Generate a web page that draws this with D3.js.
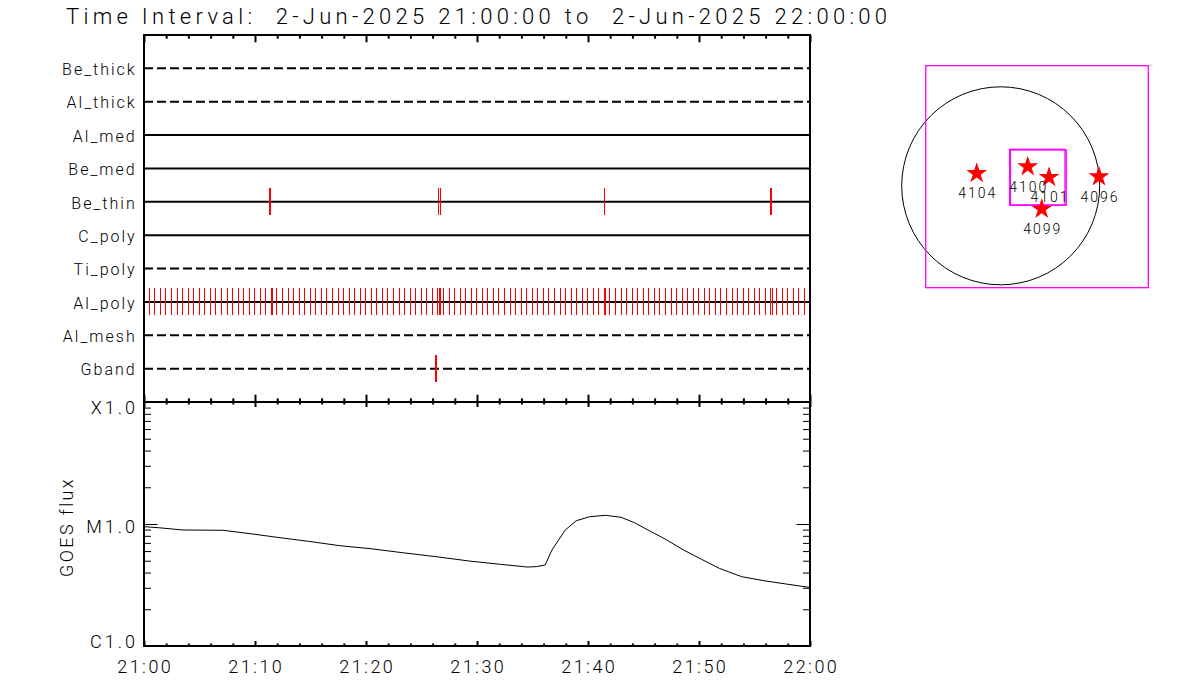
<!DOCTYPE html>
<html><head><meta charset="utf-8">
<script src="https://cdn.jsdelivr.net/npm/d3@7"></script>
<style>
body{margin:0;background:#fff}
svg{display:block}
text{font-family:"Roboto","Liberation Sans",Arial,sans-serif;font-weight:300;fill:#000}
</style>
</head><body>
<svg id="c" width="1200" height="700"></svg>
<script>
// ---------------- data ----------------
const titleText = "Time Interval:  2-Jun-2025 21:00:00 to  2-Jun-2025 22:00:00";
const filterRows = ["Be_thick","Al_thick","Al_med","Be_med","Be_thin","C_poly","Ti_poly","Al_poly","Al_mesh","Gband"];
const dashedRows = ["Be_thick","Al_thick","Ti_poly","Al_mesh","Gband"];
// exposure times, minutes after 21:00
const beThinTimes = [11.28, 11.36, 26.52, 26.67, 41.48, 56.48, 56.55];
const gbandTimes = [26.28, 26.35];
const alPolyTimes = [
 0.48,0.98,1.48,1.98,2.48,2.98,3.48,3.98,4.48,4.98,
 5.48,5.98,6.48,6.98,7.48,7.98,8.48,8.98,9.48,9.98,
 10.48,10.98,11.48,11.6,11.98,12.48,12.98,13.48,13.98,14.48,14.98,
 15.48,15.98,16.48,16.98,17.48,17.98,18.48,18.98,19.48,19.98,
 20.48,20.98,21.48,21.98,22.48,22.98,23.48,23.98,24.48,24.98,
 25.48,25.98,26.48,26.6,26.73,26.98,27.48,27.98,28.48,28.98,29.48,29.98,
 30.48,30.98,31.48,31.98,32.48,32.98,33.48,33.98,34.48,34.98,
 35.48,35.98,36.48,36.98,37.48,37.98,38.48,38.98,39.48,39.98,
 40.48,40.98,41.48,41.6,41.98,42.48,42.98,43.48,43.98,44.48,44.98,
 45.48,45.98,46.48,46.98,47.48,47.98,48.48,48.98,49.48,49.98,
 50.48,50.98,51.48,51.98,52.48,52.98,53.48,53.98,54.48,54.98,
 55.48,55.98,56.48,56.6,56.98,57.48,57.98,58.48,58.98,59.48
];
const goesMinutes = [0,1.26,3.51,7.12,10.0,11.98,14.83,17.64,20.45,23.27,26.49,29.31,32.12,34.53,35.34,36.14,36.75,37.95,38.95,40.16,41.57,42.97,44.19,45.40,47.0,48.61,50.22,51.83,53.84,55.85,57.86,60.0];
const goesFlux = [9.51e-6,9.33e-6,8.93e-6,8.88e-6,8.23e-6,7.78e-6,7.21e-6,6.64e-6,6.27e-6,5.82e-6,5.37e-6,4.97e-6,4.67e-6,4.44e-6,4.47e-6,4.61e-6,6.12e-6,8.93e-6,1.064e-5,1.148e-5,1.178e-5,1.135e-5,1.025e-5,8.93e-6,7.49e-6,6.12e-6,5.14e-6,4.33e-6,3.70e-6,3.43e-6,3.22e-6,3.02e-6];
const xMajorMinutes = [0,10,20,30,40,50,60];
const xTickLabels = ["21:00","21:10","21:20","21:30","21:40","21:50","22:00"];
const xMinorMinutes = [2,4,6,8,12,14,16,18,22,24,26,28,32,34,36,38,42,44,46,48,52,54,56,58];
const goesMajor = [1e-6,1e-5,1e-4];
const goesLabels = ["C1.0","M1.0","X1.0"];
const goesMinor = [2e-6,3e-6,4e-6,5e-6,6e-6,7e-6,8e-6,9e-6,2e-5,3e-5,4e-5,5e-5,6e-5,7e-5,8e-5,9e-5];
const yAxisTitle = "GOES flux";
// solar map (arcsec)
const sunRadius = 946;
const regionNames = ["4104","4100","4101","4096","4099"];
const regionX = [-229,258,462,939,392];
const regionY = [119,183,81,87,-222];
const fovCx = [347,350,360];
const fovCy = [87,83,78];
const fovW = [2127,528,533];
const fovH = [2121,532,528];

// ---------------- drawing ----------------
const svg = d3.select("#c");
const L = 144, R = 810, T1 = 35, B1 = 402, B2 = 646;

const x = d3.scaleLinear().domain([0,60]).range([L,R]);
const yRow = d3.scalePoint().domain(filterRows).range([T1,B1]).padding(1);
const yG = d3.scaleLog().domain([1e-6,1e-4]).range([B2,B1]);

// title
svg.append("text").attr("x",66).attr("y",24)
  .attr("font-size",22).style("white-space","pre")
  .attr("textLength",821).attr("lengthAdjust","spacing")
  .text(titleText);

// filter rows
svg.append("g").selectAll("line").data(filterRows).join("line")
  .attr("x1",L).attr("x2",R)
  .attr("y1",d=>yRow(d)).attr("y2",d=>yRow(d))
  .attr("stroke","#000").attr("stroke-width",2)
  .attr("stroke-dasharray",d=>dashedRows.includes(d)?"9,4":null);

svg.append("g").selectAll("text").data(filterRows).join("text")
  .attr("x",136.7).attr("y",d=>yRow(d)+6.7)
  .attr("text-anchor","end").attr("font-size",16)
  .style("letter-spacing","2px")
  .text(d=>d);

// exposure ticks
const events = [].concat(
  beThinTimes.map(t=>({row:"Be_thin",t})),
  alPolyTimes.map(t=>({row:"Al_poly",t})),
  gbandTimes.map(t=>({row:"Gband",t}))
);
svg.append("g").attr("shape-rendering","crispEdges")
  .selectAll("line").data(events).join("line")
  .attr("x1",d=>x(d.t)).attr("x2",d=>x(d.t))
  .attr("y1",d=>yRow(d.row)-13.5).attr("y2",d=>yRow(d.row)+13.5)
  .attr("stroke","#ff0000").attr("stroke-width",1);

// frames
function frame(y0,y1){
  svg.append("rect").attr("x",L).attr("y",y0).attr("width",R-L).attr("height",y1-y0)
    .attr("fill","none").attr("stroke","#000").attr("stroke-width",2);
}
frame(T1,B1);
frame(B1,B2);

// x ticks via axes
function xTicks(axisFn, y, vals, len){
  const g = svg.append("g").attr("transform",`translate(0,${y})`)
    .call(axisFn(x).tickValues(vals).tickSize(-len).tickFormat(""));
  g.select(".domain").remove();
  g.selectAll("text").remove();
  g.selectAll("line").attr("stroke","#000").attr("stroke-width",2);
}
xTicks(d3.axisTop, T1, xMajorMinutes, 7.3);
xTicks(d3.axisTop, T1, xMinorMinutes, 3.7);
xTicks(d3.axisBottom, B1, xMajorMinutes, 7.3);
xTicks(d3.axisBottom, B1, xMinorMinutes, 3.7);
xTicks(d3.axisTop, B1, xMajorMinutes, 5);
xTicks(d3.axisTop, B1, xMinorMinutes, 2.5);
xTicks(d3.axisBottom, B2, xMajorMinutes, 5);
xTicks(d3.axisBottom, B2, xMinorMinutes, 2.5);

svg.append("g").selectAll("text").data(xMajorMinutes).join("text")
  .attr("x",d=>x(d)+1.25).attr("y",672.7)
  .attr("text-anchor","middle").attr("font-size",18)
  .style("letter-spacing","2.5px")
  .text((d,i)=>xTickLabels[i]);

// y ticks
function yTicks(axisFn, xpos, vals, len){
  const g = svg.append("g").attr("transform",`translate(${xpos},0)`)
    .call(axisFn(yG).tickValues(vals).tickSize(-len).tickFormat(""));
  g.select(".domain").remove();
  g.selectAll("text").remove();
  g.selectAll("line").attr("stroke","#000").attr("stroke-width",1);
}
yTicks(d3.axisLeft, L, goesMajor, 13.5);
yTicks(d3.axisLeft, L, goesMinor, 7);
yTicks(d3.axisRight, R, goesMajor, 13.5);
yTicks(d3.axisRight, R, goesMinor, 7);

const labelDy = [2, 9, 12];
svg.append("g").selectAll("text").data(goesMajor).join("text")
  .attr("x",138).attr("y",(d,i)=>yG(d)+labelDy[i])
  .attr("text-anchor","end").attr("font-size",18)
  .style("letter-spacing","3px")
  .text((d,i)=>goesLabels[i]);

svg.append("text")
  .attr("transform","translate(73.3,527) rotate(-90)")
  .attr("text-anchor","middle").attr("font-size",18)
  .style("letter-spacing","2.4px")
  .text(yAxisTitle);

// GOES curve
const goesPts = goesMinutes.map((t,i)=>[t,goesFlux[i]]);
svg.append("path").datum(goesPts)
  .attr("d",d3.line().x(d=>x(d[0])).y(d=>yG(d[1])))
  .attr("fill","none").attr("stroke","#000").attr("stroke-width",1);

// solar map
const sx = d3.scaleLinear().domain([-1000,1000]).range([1000.7-104.65,1000.7+104.65]);
const sy = d3.scaleLinear().domain([-1000,1000]).range([185.8+104.65,185.8-104.65]);
const k = sx(1)-sx(0);

svg.append("circle").attr("cx",sx(0)).attr("cy",sy(0)).attr("r",sunRadius*k)
  .attr("fill","none").attr("stroke","#000").attr("stroke-width",1);

svg.append("g").selectAll("rect").data(fovCx).join("rect")
  .attr("x",(d,i)=>sx(d-fovW[i]/2)).attr("y",(d,i)=>sy(fovCy[i]+fovH[i]/2))
  .attr("width",(d,i)=>fovW[i]*k).attr("height",(d,i)=>fovH[i]*k)
  .attr("fill","none").attr("stroke","#ff00ff").attr("stroke-width",1.3);

const star = d3.symbol().type(d3.symbolStar).size(136);
svg.append("g").selectAll("path").data(regionNames).join("path")
  .attr("transform",(d,i)=>`translate(${sx(regionX[i])},${sy(regionY[i])})`)
  .attr("d",star).attr("fill","#ff0000");

svg.append("g").selectAll("text").data(regionNames).join("text")
  .attr("x",(d,i)=>sx(regionX[i])+1).attr("y",(d,i)=>sy(regionY[i])+25)
  .attr("text-anchor","middle").attr("font-size",14)
  .style("letter-spacing","2px")
  .text(d=>d);
</script>
</body></html>
